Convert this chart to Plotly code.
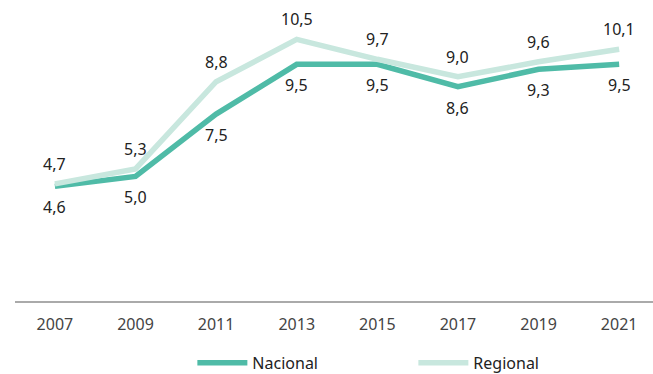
import plotly.graph_objects as go

years = [2007, 2009, 2011, 2013, 2015, 2017, 2019, 2021]
nacional = [4.6, 5.0, 7.5, 9.5, 9.5, 8.6, 9.3, 9.5]
regional = [4.7, 5.3, 8.8, 10.5, 9.7, 9.0, 9.6, 10.1]

FONT = "Noto Sans"
C_NAC = "#4fbba7"
C_REG = "#c8e7de"

fig = go.Figure()
fig.add_trace(go.Scatter(
    x=years, y=nacional, name="Nacional", mode="lines",
    line=dict(color=C_NAC, width=5.5),
))
fig.add_trace(go.Scatter(
    x=years, y=regional, name="Regional", mode="lines",
    line=dict(color=C_REG, width=5.5),
))

# value labels: regional above its line, nacional below
def fmt(v):
    return f"{v:.1f}".replace(".", ",")

for x, v in zip(years, regional):
    fig.add_annotation(x=x, y=v, text=fmt(v), showarrow=False, yshift=20,
                       font=dict(family=FONT, size=16, color="#222222"))
for x, v in zip(years, nacional):
    fig.add_annotation(x=x, y=v, text=fmt(v), showarrow=False, yshift=-21,
                       font=dict(family=FONT, size=16, color="#222222"))

fig.update_layout(
    width=653, height=374,
    margin=dict(l=15, r=0, t=2, b=73, autoexpand=False),
    paper_bgcolor="white", plot_bgcolor="white",
    separators=",.",
    font=dict(family=FONT, size=16, color="#444444"),
    showlegend=True,
    legend=dict(orientation="h", x=0.278, xanchor="left", y=-0.207, yanchor="middle",
                font=dict(family=FONT, size=16, color="#222222"),
                itemwidth=50, entrywidth=156, entrywidthmode="pixels"),
    xaxis=dict(range=[2006.01, 2021.84], tickvals=years, ticktext=[str(y) for y in years],
               showgrid=False, zeroline=False, showline=True, linecolor="#aaaaaa",
               linewidth=1.5, ticks="", ticklabelstandoff=8,
               tickfont=dict(family=FONT, size=16, color="#444444")),
    yaxis=dict(range=[0, 12], visible=False, showgrid=False, zeroline=False),
)

fig.write_html("out.html")
